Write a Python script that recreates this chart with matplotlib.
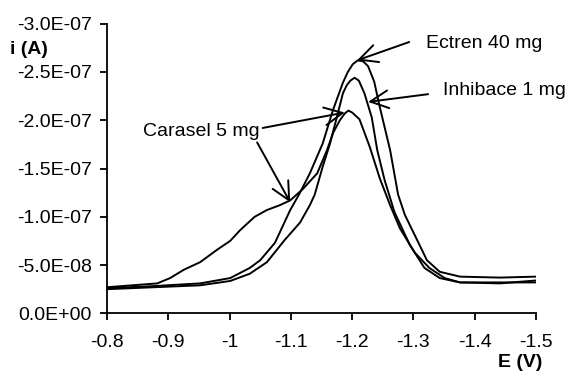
import matplotlib.pyplot as plt
from matplotlib.ticker import FixedLocator, FixedFormatter

plt.rcParams['font.family'] = ['Liberation Sans', 'DejaVu Sans']

# potential E (V) and current i (nA, magnitude)
E_ectren = [-0.80, -0.87, -0.952, -1.001, -1.033, -1.050, -1.074, -1.099, -1.115,
            -1.131, -1.152, -1.169, -1.185, -1.193, -1.201, -1.209, -1.218, -1.226,
            -1.236, -1.245, -1.262, -1.275, -1.286, -1.306, -1.322, -1.343, -1.376,
            -1.441, -1.50]
i_ectren = [26, 28, 31, 36.5, 47, 55, 73, 107, 125,
            145, 176, 211, 239, 250, 258, 262, 261, 256,
            240, 214, 169, 123, 102, 76, 55, 43, 38,
            37, 38]

E_inhib = [-0.80, -0.952, -1.001, -1.033, -1.061, -1.090, -1.115, -1.131, -1.139,
           -1.152, -1.164, -1.175, -1.185, -1.191, -1.197, -1.204, -1.211, -1.220,
           -1.232, -1.241, -1.253, -1.269, -1.294, -1.318, -1.343, -1.376, -1.42,
           -1.50]
i_inhib = [25, 29, 33.5, 41, 53, 76, 94, 112, 123,
           152, 176, 203, 228, 236, 241, 244, 241, 228,
           203, 169, 138, 105, 71, 47, 36.5, 32, 32,
           32]

E_carasel = [-0.80, -0.882, -0.903, -0.925, -0.952, -0.980, -1.001, -1.017, -1.041,
             -1.061, -1.082, -1.099, -1.120, -1.143, -1.159, -1.169, -1.180, -1.188,
             -1.194, -1.200, -1.212, -1.229, -1.245, -1.262, -1.278, -1.302, -1.326,
             -1.351, -1.376, -1.441, -1.50]
i_carasel = [27, 31, 36.5, 45, 53, 66, 75, 86, 100,
             107, 112, 117, 129, 145, 169, 187, 200, 207,
             210, 208, 201, 172, 140, 112, 88, 63, 47,
             36.5, 32, 31, 34]

x_ticks = [-0.8, -0.9, -1.0, -1.1, -1.2, -1.3, -1.4, -1.5]
x_labels = ['-0.8', '-0.9', '-1', '-1.1', '-1.2', '-1.3', '-1.4', '-1.5']
y_ticks = [0, -5e-8, -1e-7, -1.5e-7, -2e-7, -2.5e-7, -3e-7]
y_labels = ['0.0E+00', '-5.0E-08', '-1.0E-07', '-1.5E-07', '-2.0E-07', '-2.5E-07', '-3.0E-07']

fig = plt.figure(figsize=(5.67, 3.75), dpi=100)
ax = fig.add_axes([0.1887, 0.1645, 0.7566, 0.7723])

for E, i in [(E_carasel, i_carasel), (E_inhib, i_inhib), (E_ectren, i_ectren)]:
    ax.plot(E, [-v * 1e-9 for v in i], color='black', lw=1.4)

ax.set_xlim(-0.8, -1.5)
ax.set_ylim(0, -3e-7)
ax.xaxis.set_major_locator(FixedLocator(x_ticks))
ax.xaxis.set_major_formatter(FixedFormatter(x_labels))
ax.yaxis.set_major_locator(FixedLocator(y_ticks))
ax.yaxis.set_major_formatter(FixedFormatter(y_labels))
ax.spines['top'].set_visible(False)
ax.spines['right'].set_visible(False)
for s in ['left', 'bottom']:
    ax.spines[s].set_linewidth(1.3)
ax.tick_params(axis='both', direction='out', length=5, width=1.3, labelsize=14)
ax.tick_params(axis='x', pad=10)
ax.tick_params(axis='y', pad=6)

fig.text(0.018, 0.869, 'i (A)', fontsize=14, fontweight='bold', va='center')
fig.text(0.878, 0.034, 'E (V)', fontsize=14, fontweight='bold', va='center')

arrow = dict(arrowstyle='->,head_length=0.65,head_width=0.32', color='black',
             lw=1.4, mutation_scale=20, shrinkA=0, shrinkB=0)
ax.text(-1.320, -2.80e-7, 'Ectren 40 mg', fontsize=14, va='center', ha='left')
ax.annotate('', xy=(-1.208, -2.62e-7), xytext=(-1.293, -2.81e-7), arrowprops=arrow)
ax.text(-1.348, -2.31e-7, 'Inhibace 1 mg', fontsize=14, va='center', ha='left')
ax.annotate('', xy=(-1.226, -2.19e-7), xytext=(-1.324, -2.27e-7), arrowprops=arrow)
ax.text(-0.859, -1.88e-7, 'Carasel 5 mg', fontsize=14, va='center', ha='left')
ax.annotate('', xy=(-1.188, -2.08e-7), xytext=(-1.054, -1.92e-7), arrowprops=arrow)
ax.annotate('', xy=(-1.099, -1.15e-7), xytext=(-1.045, -1.77e-7), arrowprops=arrow)

fig.savefig('out.png', dpi=100)
